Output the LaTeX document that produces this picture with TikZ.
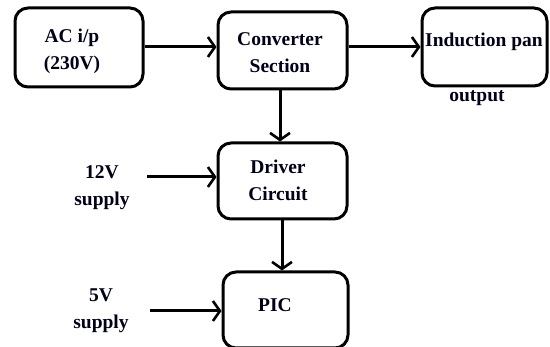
\documentclass[tikz,border=0pt]{standalone}
\usepackage{fontspec}
\setmainfont{Liberation Serif}
\usetikzlibrary{arrows.meta}
\begin{document}
\begin{tikzpicture}[x=1pt,y=-1pt,
  blk/.style={draw=black,line width=3pt,rounded corners=13pt,inner sep=0pt},
  lbl/.style={font=\bfseries\fontsize{19.5}{27}\selectfont,align=center,text=black!85!blue!60!black},
  conn/.style={line width=3pt,-{Straight Barb[length=7pt,width=20pt,line width=2.6pt]}}]
\useasboundingbox (0,0) rectangle (550,347);
% boxes
\node[blk,minimum width=128pt,minimum height=79pt] (ac)  at (79,47.5) {};
\node[blk,minimum width=129pt,minimum height=77pt] (cv)  at (282.5,50.5) {};
\node[blk,minimum width=125pt,minimum height=78pt] (ind) at (484.5,47) {};
\node[blk,minimum width=129pt,minimum height=76pt] (drv) at (282.5,181) {};
\node[blk,minimum width=125pt,minimum height=76pt] (pic) at (285.5,310) {};
% labels inside the boxes
\node[lbl] (tac)  at (72,51) {AC i/p\\(230V)};
\node[lbl] (tcv)  at (280,53) {Converter\\Section};
\node[lbl] (tind) at (484,42) {Induction pan};
\node[lbl] (tdrv) at (278,180) {Driver\\Circuit};
\node[lbl] (tpic) at (275,305) {PIC};
% outside labels
\node[lbl] (tout) at (477,98) {output};
\node[lbl] (t12)  at (102,188) {12V\\supply};
\node[lbl] (t5)   at (101,311) {5V\\supply};
% connectors
\coordinate (s12) at (147,177);
\coordinate (s5)  at (150,311);
\draw[conn] (ac.east |- 0,47) -- (cv.west |- 0,47);
\draw[conn] (cv.east |- 0,47) -- (ind.west |- 0,47);
\draw[conn] (cv.south -| 280,0) -- (drv.north -| 280,0);
\draw[conn] (drv.south -| 282,0) -- (pic.north -| 282,0);
\draw[conn] (s12) -- (drv.west |- s12);
\draw[conn] (s5) -- (pic.west |- s5);
\end{tikzpicture}
\end{document}
